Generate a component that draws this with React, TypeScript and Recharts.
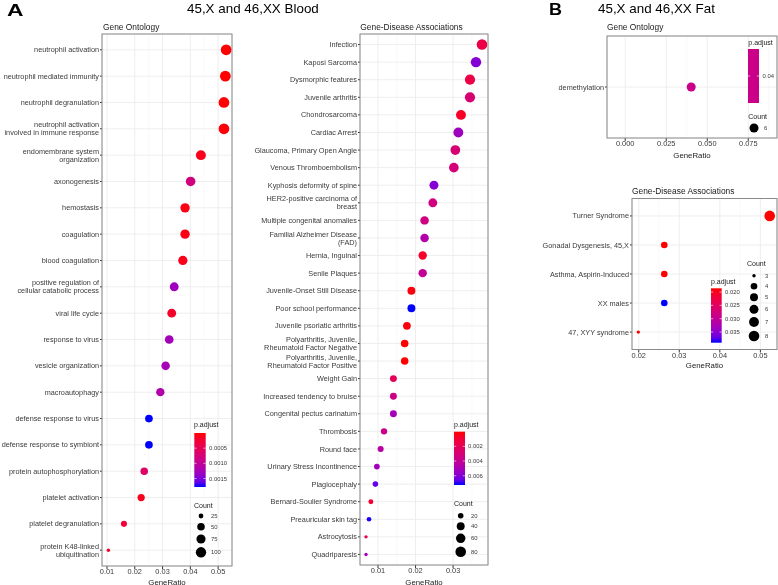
import React from "react";
import { ScatterChart, Scatter, XAxis, YAxis, CartesianGrid } from "recharts";

const FONT = "'Liberation Sans', Arial, Helvetica, sans-serif";

// ---------- Panel A: Blood, Gene Ontology ----------
const goBloodTerms = [
  "neutrophil activation",
  "neutrophil mediated immunity",
  "neutrophil degranulation",
  "neutrophil activation\ninvolved in immune response",
  "endomembrane system\norganization",
  "axonogenesis",
  "hemostasis",
  "coagulation",
  "blood coagulation",
  "positive regulation of\ncellular catabolic process",
  "viral life cycle",
  "response to virus",
  "vesicle organization",
  "macroautophagy",
  "defense response to virus",
  "defense response to symbiont",
  "protein autophosphorylation",
  "platelet activation",
  "platelet degranulation",
  "protein K48-linked\nubiquitination",
];
const goBloodRatio = [0.0529, 0.0526, 0.0521, 0.0521, 0.0438, 0.0401, 0.0381, 0.0381, 0.0373, 0.0342, 0.0333, 0.0324, 0.0311, 0.0292, 0.0251, 0.0251, 0.0234, 0.0223, 0.0161, 0.0105];
const goBloodCount = [110, 109, 108, 108, 91, 83, 79, 79, 77, 71, 69, 67, 65, 61, 52, 52, 49, 46, 34, 22];
const goBloodPadj = [0.000001, 0.000005, 0.00001, 0.00002, 0.0001, 0.0008, 0.00006, 0.00006, 0.00008, 0.0013, 0.00018, 0.00127, 0.00124, 0.00115, 0.00178, 0.00178, 0.00062, 0.0001, 0.00027, 0.00018];
const goBloodTicks = [0.01, 0.02, 0.03, 0.04, 0.05];
const goBloodMinor = [0.015, 0.025, 0.035, 0.045];
const goBloodPTicks = [0.0005, 0.001, 0.0015];
const goBloodPLabels = ["0.0005", "0.0010", "0.0015"];
const goBloodCountKeys = [25, 50, 75, 100];

// ---------- Panel A: Blood, Gene-Disease Associations ----------
const gdaBloodTerms = [
  "Infection",
  "Kaposi Sarcoma",
  "Dysmorphic features",
  "Juvenile arthritis",
  "Chondrosarcoma",
  "Cardiac Arrest",
  "Glaucoma, Primary Open Angle",
  "Venous Thromboembolism",
  "Kyphosis deformity of spine",
  "HER2-positive carcinoma of\nbreast",
  "Multiple congenital anomalies",
  "Familial Alzheimer Disease\n(FAD)",
  "Hernia, Inguinal",
  "Senile Plaques",
  "Juvenile-Onset Still Disease",
  "Poor school performance",
  "Juvenile psoriatic arthritis",
  "Polyarthritis, Juvenile,\nRheumatoid Factor Negative",
  "Polyarthritis, Juvenile,\nRheumatoid Factor Positive",
  "Weight Gain",
  "Increased tendency to bruise",
  "Congenital pectus carinatum",
  "Thrombosis",
  "Round face",
  "Urinary Stress Incontinence",
  "Plagiocephaly",
  "Bernard-Soulier Syndrome",
  "Preauricular skin tag",
  "Astrocytosis",
  "Quadriparesis",
];
const gdaBloodRatio = [0.0377, 0.0361, 0.0345, 0.0345, 0.0321, 0.0314, 0.0306, 0.0302, 0.0249, 0.0246, 0.0224, 0.0224, 0.0219, 0.0219, 0.0189, 0.0189, 0.0177, 0.0171, 0.0171, 0.0141, 0.0141, 0.0141, 0.0116, 0.0107, 0.0097, 0.0093, 0.0081, 0.0076, 0.0068, 0.0068];
const gdaBloodCount = [80, 77, 73, 73, 68, 67, 65, 64, 53, 52, 47, 47, 46, 46, 40, 40, 38, 36, 36, 30, 30, 30, 25, 23, 21, 20, 17, 16, 14, 14];
const gdaBloodPadj = [0.0015, 0.006, 0.0015, 0.0029, 0.0006, 0.0053, 0.0029, 0.0031, 0.006, 0.0033, 0.0034, 0.0047, 0.0007, 0.004, 0.0002, 0.00726, 0.0002, 0.00001, 0.00002, 0.0021, 0.0035, 0.0051, 0.0036, 0.0044, 0.0052, 0.0066, 0.0009, 0.0072, 0.0018, 0.0052];
const gdaBloodTicks = [0.01, 0.02, 0.03];
const gdaBloodMinor = [0.015, 0.025, 0.035];
const gdaBloodPTicks = [0.002, 0.004, 0.006];
const gdaBloodPLabels = ["0.002", "0.004", "0.006"];
const gdaBloodCountKeys = [20, 40, 60, 80];

// ---------- Panel B: Fat, Gene Ontology ----------
const goFatTerms = ["demethylation"];
const goFatRatio = [0.0402];
const goFatCount = [6];
const goFatPadj = [0.04];
const goFatTicks = [0, 0.025, 0.05, 0.075];
const goFatMinor = [0.0125, 0.0375, 0.0625, 0.0875];
const goFatPTicks = [0.04];
const goFatPLabels = ["0.04"];
const goFatCountKeys = [6];

// ---------- Panel B: Fat, Gene-Disease Associations ----------
const gdaFatTerms = ["Turner Syndrome", "Gonadal Dysgenesis, 45,X", "Asthma, Aspirin-Induced", "XX males", "47, XYY syndrome"];
const gdaFatRatio = [0.0523, 0.0263, 0.0263, 0.0263, 0.0199];
const gdaFatCount = [8, 4, 4, 4, 3];
const gdaFatPadj = [0.0186, 0.0186, 0.0187, 0.039, 0.0186];
const gdaFatTicks = [0.02, 0.03, 0.04, 0.05];
const gdaFatMinor = [0.025, 0.035, 0.045];
const gdaFatPTicks = [0.02, 0.025, 0.03, 0.035];
const gdaFatPLabels = ["0.020", "0.025", "0.030", "0.035"];
const gdaFatCountKeys = [3, 4, 5, 6, 7, 8];

// ---------- colour / size helpers ----------
const LAB_LOW = [53.2408, 80.0925, 67.2032]; // red
const LAB_HIGH = [32.297, 79.1875, -107.8602]; // blue

function lab2hex(L: number, a: number, b: number) {
  const fy = (L + 16) / 116;
  const fx = fy + a / 500;
  const fz = fy - b / 200;
  const d = 6 / 29;
  const finv = (t: number) => (t > d ? t * t * t : 3 * d * d * (t - 4 / 29));
  const X = 0.95047 * finv(fx);
  const Y = finv(fy);
  const Z = 1.08883 * finv(fz);
  const r = 3.2404542 * X - 1.5371385 * Y - 0.4985314 * Z;
  const g = -0.969266 * X + 1.8760108 * Y + 0.041556 * Z;
  const bl = 0.0556434 * X - 0.2040259 * Y + 1.0572252 * Z;
  const gam = (v: number) => {
    const c = Math.min(1, Math.max(0, v));
    return c <= 0.0031308 ? 12.92 * c : 1.055 * Math.pow(c, 1 / 2.4) - 0.055;
  };
  const h = (v: number) => Math.round(Math.min(1, Math.max(0, gam(v))) * 255).toString(16).padStart(2, "0");
  return "#" + h(r) + h(g) + h(bl);
}

function rampColor(t: number) {
  const u = Math.min(1, Math.max(0, t));
  return lab2hex(
    LAB_LOW[0] + (LAB_HIGH[0] - LAB_LOW[0]) * u,
    LAB_LOW[1] + (LAB_HIGH[1] - LAB_LOW[1]) * u,
    LAB_LOW[2] + (LAB_HIGH[2] - LAB_LOW[2]) * u
  );
}

function padjT(p: number, min: number, max: number) {
  return max > min ? (p - min) / (max - min) : 0.5;
}

function dotDiameter(c: number, min: number, max: number, dMin: number, dMax: number) {
  const t = max > min ? (c - min) / (max - min) : 0.5;
  return dMin + (dMax - dMin) * Math.sqrt(Math.max(0, t));
}

type Panel = {
  left: number;
  top: number;
  width: number;
  height: number;
  box: [number, number, number, number];
  domain: [number, number];
  ticks: number[];
  minor: number[];
  decimals: number;
  labelOffset: number;
  tickFont: number;
  terms: string[];
  ratio: number[];
  count: number[];
  padj: number[];
  dMin: number;
  dMax: number;
};

const panels: Panel[] = [
  {
    left: 0, top: 0, width: 240, height: 585, box: [102, 34, 232, 566],
    domain: [0.0082, 0.055], ticks: goBloodTicks, minor: goBloodMinor, decimals: 2, labelOffset: 0.5, tickFont: 7.4,
    terms: goBloodTerms, ratio: goBloodRatio, count: goBloodCount, padj: goBloodPadj, dMin: 3.4, dMax: 10.8,
  },
  {
    left: 245, top: 0, width: 250, height: 585, box: [360, 34, 488, 565],
    domain: [0.0052, 0.0393], ticks: gdaBloodTicks, minor: gdaBloodMinor, decimals: 2, labelOffset: 0.5, tickFont: 7.4,
    terms: gdaBloodTerms, ratio: gdaBloodRatio, count: gdaBloodCount, padj: gdaBloodPadj, dMin: 3.4, dMax: 10.6,
  },
  {
    left: 540, top: 0, width: 238, height: 170, box: [607, 36, 777, 138],
    domain: [-0.0111, 0.0925], ticks: goFatTicks, minor: goFatMinor, decimals: 3, labelOffset: 12, tickFont: 7.4,
    terms: goFatTerms, ratio: goFatRatio, count: goFatCount, padj: goFatPadj, dMin: 3, dMax: 11.5,
  },
  {
    left: 540, top: 185, width: 238, height: 185, box: [632, 198.5, 777, 349.5],
    domain: [0.01834, 0.0541], ticks: gdaFatTicks, minor: gdaFatMinor, decimals: 2, labelOffset: 2.5, tickFont: 7.4,
    terms: gdaFatTerms, ratio: gdaFatRatio, count: gdaFatCount, padj: gdaFatPadj, dMin: 3.4, dMax: 10.6,
  },
];

function DotPanel({ cfg }: { cfg: Panel }) {
  const [x0, y0, x1, y1] = cfg.box;
  const n = cfg.terms.length;
  const data = cfg.terms.map((term, i) => ({
    term,
    ratio: cfg.ratio[i],
    count: cfg.count[i],
    padj: cfg.padj[i],
    idx: i + 1,
  }));
  const pMin = Math.min(...cfg.padj);
  const pMax = Math.max(...cfg.padj);
  const cMin = Math.min(...cfg.count);
  const cMax = Math.max(...cfg.count);
  const idxTicks = cfg.terms.map((_, i) => i + 1);

  const renderYTick = (props: any) => {
    const { x, y, payload } = props;
    const label = cfg.terms[Math.round(payload.value) - 1] || "";
    const lines = label.split("\n");
    const fs = 7.3;
    const lh = 8;
    const start = y - ((lines.length - 1) * lh) / 2 + fs * 0.35;
    return (
      <text x={x} y={start} textAnchor="end" fontSize={fs} fill="#3a3a3a" fontFamily={FONT}>
        {lines.map((l, i) => (
          <tspan key={i} x={x} y={start + i * lh}>
            {l}
          </tspan>
        ))}
      </text>
    );
  };

  const renderDot = (props: any) => {
    const p = props.payload ?? props;
    const d = dotDiameter(p.count, cMin, cMax, cfg.dMin, cfg.dMax);
    return <circle cx={props.cx} cy={props.cy} r={d / 2} fill={rampColor(padjT(p.padj, pMin, pMax))} />;
  };

  return (
    <div style={{ position: "absolute", left: cfg.left, top: cfg.top, willChange: "transform" }}>
      <ScatterChart
        width={cfg.width}
        height={cfg.height}
        margin={{ top: y0 - cfg.top, right: cfg.left + cfg.width - x1, left: 0, bottom: 0 }}
      >
        <CartesianGrid xAxisId="minor" horizontal={false} stroke="#F5F5F5" strokeWidth={0.6} />
        <CartesianGrid stroke="#EEEEEE" strokeWidth={1} />
        <XAxis xAxisId="minor" type="number" dataKey="ratio" domain={cfg.domain} ticks={cfg.minor} allowDataOverflow hide />
        <XAxis
          type="number"
          dataKey="ratio"
          domain={cfg.domain}
          ticks={cfg.ticks}
          interval={0}
          allowDataOverflow
          height={cfg.top + cfg.height - y1}
          tickSize={3}
          tickMargin={0}
          axisLine={false}
          tickLine={{ stroke: "#333333" }}
          tick={{ fontSize: cfg.tickFont, fill: "#3a3a3a", fontFamily: FONT }}
          tickFormatter={(v: number) => v.toFixed(cfg.decimals)}
          label={{
            value: "GeneRatio",
            position: "insideBottom",
            offset: cfg.labelOffset,
            fontSize: 7.8,
            fill: "#1a1a1a",
            fontFamily: FONT,
          }}
        />
        <YAxis
          type="number"
          dataKey="idx"
          domain={[0.4, n + 0.6]}
          reversed
          ticks={idxTicks}
          interval={0}
          allowDataOverflow
          width={x0 - cfg.left}
          tickSize={2}
          tickMargin={1}
          axisLine={false}
          tickLine={{ stroke: "#333333" }}
          tick={renderYTick}
        />
        <Scatter data={data} isAnimationActive={false} shape={renderDot} />
      </ScatterChart>
    </div>
  );
}

type ColorBarProps = {
  id: string;
  titleX: number;
  titleY: number;
  x: number;
  y: number;
  w: number;
  h: number;
  min: number;
  max: number;
  ticks: number[];
  labels: string[];
  labelX: number;
};

function ColorBar(props: ColorBarProps) {
  const { id, titleX, titleY, x, y, w, h, min, max, ticks, labels, labelX } = props;
  const single = !(max > min);
  const stops = [0, 0.1, 0.2, 0.3, 0.4, 0.5, 0.6, 0.7, 0.8, 0.9, 1];
  return (
    <g fontFamily={FONT}>
      <text x={titleX} y={titleY} fontSize={7} fill="#1a1a1a">p.adjust</text>
      <defs>
        <linearGradient id={id} x1="0" y1="0" x2="0" y2="1">
          {stops.map((s) => (
            <stop key={s} offset={s} stopColor={single ? rampColor(0.5) : rampColor(s)} />
          ))}
        </linearGradient>
      </defs>
      <rect x={x} y={y} width={w} height={h} fill={`url(#${id})`} />
      {ticks.map((v, i) => {
        const ty = single ? y + h / 2 : y + ((v - min) / (max - min)) * h;
        return (
          <g key={i}>
            <line x1={x} x2={x + w * 0.2} y1={ty} y2={ty} stroke="#ffffff" strokeWidth={0.6} />
            <line x1={x + w * 0.8} x2={x + w} y1={ty} y2={ty} stroke="#ffffff" strokeWidth={0.6} />
            <text x={labelX} y={ty + 2} fontSize={5.9} fill="#3a3a3a">{labels[i]}</text>
          </g>
        );
      })}
    </g>
  );
}

type SizeKeyProps = {
  titleX: number;
  titleY: number;
  dotX: number;
  ys: number[];
  keys: number[];
  labelX: number;
  cMin: number;
  cMax: number;
  dMin: number;
  dMax: number;
};

function SizeKey(props: SizeKeyProps) {
  const { titleX, titleY, dotX, ys, keys, labelX, cMin, cMax, dMin, dMax } = props;
  return (
    <g fontFamily={FONT}>
      <text x={titleX} y={titleY} fontSize={7} fill="#1a1a1a">Count</text>
      {keys.map((k, i) => (
        <g key={k}>
          <circle cx={dotX} cy={ys[i]} r={dotDiameter(k, cMin, cMax, dMin, dMax) / 2} fill="#000000" />
          <text x={labelX} y={ys[i] + 2} fontSize={5.9} fill="#3a3a3a">{String(k)}</text>
        </g>
      ))}
    </g>
  );
}

export default function App() {
  const mm = (a: number[]) => [Math.min(...a), Math.max(...a)];
  const [gbPmin, gbPmax] = mm(goBloodPadj);
  const [gbCmin, gbCmax] = mm(goBloodCount);
  const [dbPmin, dbPmax] = mm(gdaBloodPadj);
  const [dbCmin, dbCmax] = mm(gdaBloodCount);
  const [gfPmin, gfPmax] = mm(goFatPadj);
  const [gfCmin, gfCmax] = mm(goFatCount);
  const [dfPmin, dfPmax] = mm(gdaFatPadj);
  const [dfCmin, dfCmax] = mm(gdaFatCount);

  return (
    <div style={{ position: "absolute", left: 0, top: 0, width: 778, height: 585, overflow: "hidden" }}>
      {panels.map((p, i) => (
        <DotPanel key={i} cfg={p} />
      ))}
      <svg width={778} height={585} style={{ position: "absolute", left: 0, top: 0, pointerEvents: "none", willChange: "transform" }}>
        {/* panel borders */}
        {panels.map((p, i) => (
          <rect
            key={i}
            x={p.box[0]}
            y={p.box[1]}
            width={p.box[2] - p.box[0]}
            height={p.box[3] - p.box[1]}
            fill="none"
            stroke="#8a8a8a"
            strokeWidth={1}
          />
        ))}
        {/* headings */}
        <g fontFamily={FONT}>
          <text x={7} y={16} fontSize={17} fontWeight={700} fill="#000" textLength={16.5} lengthAdjust="spacingAndGlyphs">A</text>
          <text x={187} y={13.3} fontSize={13.4} fill="#000">45,X and 46,XX Blood</text>
          <text x={549} y={14.5} fontSize={17} fontWeight={700} fill="#000" textLength={13} lengthAdjust="spacingAndGlyphs">B</text>
          <text x={598} y={13.3} fontSize={13.4} fill="#000">45,X and 46,XX Fat</text>
          <text x={103} y={29.5} fontSize={8.4} fill="#1a1a1a">Gene Ontology</text>
          <text x={360.3} y={29.5} fontSize={8.4} fill="#1a1a1a">Gene-Disease Associations</text>
          <text x={607} y={29.7} fontSize={8.4} fill="#1a1a1a">Gene Ontology</text>
          <text x={632} y={194} fontSize={8.4} fill="#1a1a1a">Gene-Disease Associations</text>
        </g>
        {/* legends: A GO */}
        <ColorBar id="gA1" titleX={194} titleY={427} x={194.3} y={433} w={11.4} h={54} min={gbPmin} max={gbPmax}
          ticks={goBloodPTicks} labels={goBloodPLabels} labelX={209} />
        <SizeKey titleX={194} titleY={507.5} dotX={201} ys={[516, 526.7, 539, 552.3]} keys={goBloodCountKeys} labelX={211}
          cMin={gbCmin} cMax={gbCmax} dMin={panels[0].dMin} dMax={panels[0].dMax} />
        {/* legends: A GDA */}
        <ColorBar id="gA2" titleX={454} titleY={427} x={454} y={431.7} w={11} h={53.3} min={dbPmin} max={dbPmax}
          ticks={gdaBloodPTicks} labels={gdaBloodPLabels} labelX={468} />
        <SizeKey titleX={454} titleY={505.5} dotX={460.7} ys={[515.7, 526.3, 538.3, 551.7]} keys={gdaBloodCountKeys} labelX={471}
          cMin={dbCmin} cMax={dbCmax} dMin={panels[1].dMin} dMax={panels[1].dMax} />
        {/* legends: B GO */}
        <ColorBar id="gB1" titleX={748.3} titleY={44.5} x={748} y={49} w={11} h={54} min={gfPmin} max={gfPmax}
          ticks={goFatPTicks} labels={goFatPLabels} labelX={762.5} />
        <SizeKey titleX={748.3} titleY={118.5} dotX={754} ys={[128]} keys={goFatCountKeys} labelX={764}
          cMin={gfCmin} cMax={gfCmax} dMin={panels[2].dMin} dMax={panels[2].dMax} />
        {/* legends: B GDA */}
        <ColorBar id="gB2" titleX={711} titleY={283.5} x={711} y={288.3} w={10.7} h={54.4} min={dfPmin} max={dfPmax}
          ticks={gdaFatPTicks} labels={gdaFatPLabels} labelX={725} />
        <SizeKey titleX={747} titleY={266} dotX={754} ys={[275.7, 286.3, 297.3, 309.3, 322, 336]} keys={gdaFatCountKeys} labelX={765}
          cMin={dfCmin} cMax={dfCmax} dMin={panels[3].dMin} dMax={panels[3].dMax} />
      </svg>
    </div>
  );
}
